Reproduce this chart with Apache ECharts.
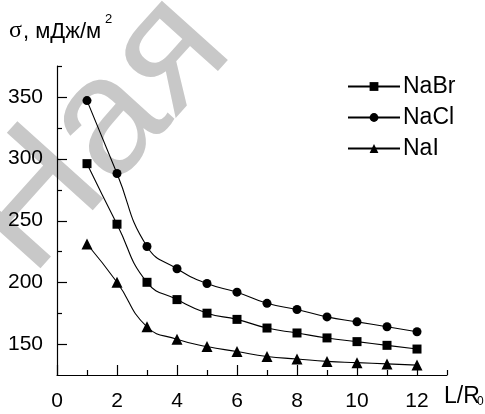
<!DOCTYPE html>
<html>
<head>
<meta charset="utf-8">
<script src="https://cdn.jsdelivr.net/npm/echarts@6/dist/echarts.min.js"></script>
<style>
  html, body { margin: 0; padding: 0; background: #fff; }
  #chart { width: 485px; height: 414px; }
</style>
</head>
<body>
<div id="chart"></div>
<script>
// L/R0 values
var xValues = [1, 2, 3, 4, 5, 6, 7, 8, 9, 10, 11, 12];
var naBr = [296, 247, 200, 186, 175, 170, 163, 159, 155, 152, 149, 146];
var naCl = [347, 288, 229, 211, 199, 192, 183, 178, 172, 168, 164, 160];
var naI = [231, 200, 164, 154, 148, 144, 140, 138, 136, 135, 134, 133];

// tick positions
var xMajor = [0, 2, 4, 6, 8, 10, 12];
var xMinor = [1, 3, 5, 7, 9, 11, 13];
var yMajor = [150, 200, 250, 300, 350];
var yMinor = [175, 225, 275, 325, 375];

var font = "'Liberation Sans', Arial, sans-serif";
var serif = "'Liberation Serif', 'Times New Roman', serif";
var X_MIN = 0, Y_MIN = 125;

function pairs(ys) {
  return xValues.map(function (x, i) { return [x, ys[i]]; });
}

function mkSeries(name, ys, symbol) {
  return {
    name: name,
    type: "line",
    data: pairs(ys),
    smooth: 0.5,
    symbol: symbol,
    symbolSize: symbol == "triangle" ? 11 : 9,
    color: "#000",
    lineStyle: { color: "#000", width: 1.1 },
    itemStyle: { color: "#000" },
    z: 3,
  };
}

// kind: 0 x major, 1 x minor, 2 y major, 3 y minor
var tickData = []
  .concat(xMajor.map(function (v) { return [0, v]; }))
  .concat(xMinor.map(function (v) { return [1, v]; }))
  .concat(yMajor.map(function (v) { return [2, v]; }))
  .concat(yMinor.map(function (v) { return [3, v]; }));

// ticks point inwards, the labelled ones are longer
function renderTick(params, api) {
  var kind = api.value(0);
  var v = api.value(1);
  var len = kind % 2 === 0 ? 10 : 5;
  var p, shape;
  if (kind < 2) {
    p = api.coord([v, Y_MIN]);
    var x = Math.round(p[0]) + 0.5;
    shape = { x1: x, y1: p[1], x2: x, y2: p[1] - len };
  } else {
    p = api.coord([X_MIN, v]);
    var y = Math.round(p[1]) + 0.5;
    shape = { x1: p[0], y1: y, x2: p[0] + len, y2: y };
  }
  return { type: "line", shape: shape, style: { stroke: "#000", lineWidth: 1.2 } };
}

var chart = echarts.init(document.getElementById("chart"));

var option = {
  animation: false,
  backgroundColor: "#fff",
  textStyle: { fontFamily: font },
  grid: { left: 57, right: 38, top: 66, bottom: 39 },
  legend: {
    orient: "vertical",
    left: 342,
    top: 70,
    itemWidth: 52,
    itemHeight: 11,
    itemGap: 8,
    data: ["NaBr", "NaCl", "NaI"],
    textStyle: { fontSize: 23, color: "#000", fontFamily: font, padding: [0, 0, 0, -2] },
  },
  xAxis: {
    type: "value",
    min: X_MIN,
    max: 13,
    splitLine: { show: false },
    axisLine: { show: true, lineStyle: { color: "#000", width: 1.2 } },
    axisTick: { show: false },
    axisLabel: { customValues: xMajor, fontSize: 21, color: "#000", margin: 16, fontFamily: font },
  },
  yAxis: {
    type: "value",
    min: Y_MIN,
    max: 375,
    splitLine: { show: false },
    axisLine: { show: true, lineStyle: { color: "#000", width: 1.2 } },
    axisTick: { show: false },
    axisLabel: { customValues: yMajor, fontSize: 21, color: "#000", margin: 14, fontFamily: font },
  },
  graphic: [
    {
      type: "text",
      silent: true,
      z: -10,
      x: 99,
      y: 134,
      rotation: (48 * Math.PI) / 180,
      style: {
        text: "Ная",
        fontSize: 168,
        fontFamily: font,
        fill: "#c8c8c8",
        align: "center",
        verticalAlign: "middle",
      },
    },
    {
      type: "text",
      x: 9,
      y: 19,
      style: { text: "σ", fontSize: 24, fontFamily: serif, fill: "#000", verticalAlign: "top" },
    },
    {
      type: "text",
      x: 23,
      y: 21,
      style: { text: ", мДж/м", fontSize: 22, fontFamily: font, fill: "#000", verticalAlign: "top" },
    },
    {
      type: "text",
      x: 105,
      y: 13,
      style: { text: "2", fontSize: 13, fontFamily: font, fill: "#000", verticalAlign: "top" },
    },
    {
      type: "text",
      x: 444,
      y: 385,
      style: { text: "L/R", fontSize: 23, fontFamily: font, fill: "#000", verticalAlign: "top" },
    },
    {
      type: "text",
      x: 477,
      y: 396,
      style: { text: "0", fontSize: 12, fontFamily: font, fill: "#000", verticalAlign: "top" },
    },
  ],
  series: [
    mkSeries("NaBr", naBr, "rect"),
    mkSeries("NaCl", naCl, "circle"),
    mkSeries("NaI", naI, "triangle"),
    {
      name: "ticks",
      type: "custom",
      renderItem: renderTick,
      data: tickData,
      clip: false,
      silent: true,
      z: 4,
    },
  ],
};

chart.setOption(option);
</script>
</body>
</html>
